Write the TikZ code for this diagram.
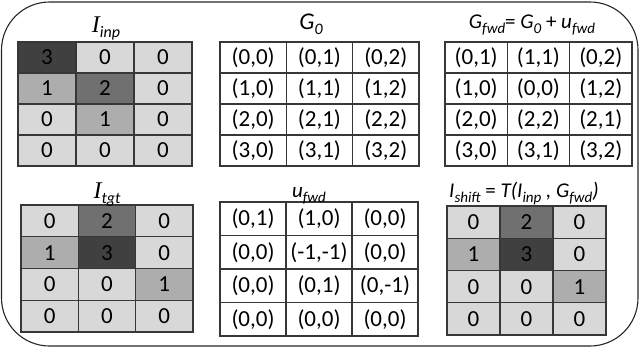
\documentclass[tikz,border=0pt]{standalone}
\usepackage{fontspec}
\setmainfont{Carlito}
\newfontfamily\serifI{Liberation Serif}
\definecolor{cW}{RGB}{255,255,255}
\definecolor{cL}{RGB}{216,216,216}
\definecolor{cA}{RGB}{173,173,173}
\definecolor{cB}{RGB}{112,112,112}
\definecolor{cC}{RGB}{64,64,64}
\definecolor{gridline}{RGB}{55,55,55}
\newcommand\mysub[2][14]{\raisebox{-5pt}{\fontsize{#1}{#1}\selectfont\rmfamily\itshape #2}}
\tikzset{
  cellbox/.style={draw=gridline, line width=1.3pt, inner sep=0pt, anchor=center,
    font=\fontsize{23}{23}\selectfont, text=black},
  framebox/.style={draw=black!85, line width=1.1pt, rounded corners=48pt},
  titlebox/.style={anchor=base, inner sep=0pt}
}
% #1 name, #2 x0, #3 y0, #4 cell width, #5 row height, #6 list fill/text
\newcommand\mkgrid[6]{%
  \foreach \f/\t [count=\i from 0] in {#6}{%
    \pgfmathtruncatemacro\rr{floor(\i/3)}%
    \pgfmathtruncatemacro\cc{mod(\i,3)}%
    \node[cellbox, fill=c\f, minimum width=#4pt, minimum height=#5pt]
      (#1-\rr-\cc) at ({#2+(\cc+0.5)*#4},{#3+(\rr+0.5)*#5}) {\t};
  }%
}
\begin{document}
\begin{tikzpicture}[x=1pt,y=-1pt]
\useasboundingbox (0,0) rectangle (640,349);
\draw[framebox] (1.5,2) rectangle (638,346);

\mkgrid{inp}{18}{42}{58}{31}{C/3,L/0,L/0,A/1,B/2,L/0,L/0,A/1,L/0,L/0,L/0,L/0}
\mkgrid{g0}{220}{42}{66.3}{31}{W/{(0,0)},W/{(0,1)},W/{(0,2)},W/{(1,0)},W/{(1,1)},W/{(1,2)},W/{(2,0)},W/{(2,1)},W/{(2,2)},W/{(3,0)},W/{(3,1)},W/{(3,2)}}
\mkgrid{gfwd}{445}{42}{62.3}{31}{W/{(0,1)},W/{(1,1)},W/{(0,2)},W/{(1,0)},W/{(0,0)},W/{(1,2)},W/{(2,0)},W/{(2,2)},W/{(2,1)},W/{(3,0)},W/{(3,1)},W/{(3,2)}}
\mkgrid{tgt}{21}{205}{57.3}{31.75}{L/0,B/2,L/0,A/1,C/3,L/0,L/0,L/0,A/1,L/0,L/0,L/0}
\mkgrid{ufwd}{220}{202}{66}{33.5}{W/{(0,1)},W/{(1,0)},W/{(0,0)},W/{(0,0)},W/{(-1,-1)},W/{(0,0)},W/{(0,0)},W/{(0,1)},W/{(0,-1)},W/{(0,0)},W/{(0,0)},W/{(0,0)}}
\mkgrid{shift}{447}{206}{53}{32.25}{L/0,B/2,L/0,A/1,C/3,L/0,L/0,L/0,A/1,L/0,L/0,L/0}

\node[titlebox] (tinp) at (106,32) {\fontsize{24}{24}\selectfont\serifI\itshape I\mysub[16]{inp}};
\node[titlebox] (tg0) at (311,29) {\fontsize{24}{24}\selectfont\itshape G\mysub[16]{0}};
\node[titlebox] (tgfwd) at (532,28.5) {\fontsize{21}{21}\selectfont\itshape G\mysub[15]{fwd}\upshape= \itshape G\mysub[15]{0} \upshape+ \itshape u\mysub[15]{fwd}};
\node[titlebox] (ttgt) at (107,198) {\fontsize{24}{24}\selectfont\serifI\itshape I\mysub[16]{tgt}};
\node[titlebox] (tufwd) at (309,197) {\fontsize{21}{21}\selectfont\itshape u\mysub[15]{fwd}};
\node[titlebox] (tshift) at (524,197) {\fontsize{21}{21}\selectfont\itshape I\mysub[15]{shift} \upshape= \itshape T(I\mysub[15]{inp} , G\mysub[15]{fwd})};
\end{tikzpicture}
\end{document}
